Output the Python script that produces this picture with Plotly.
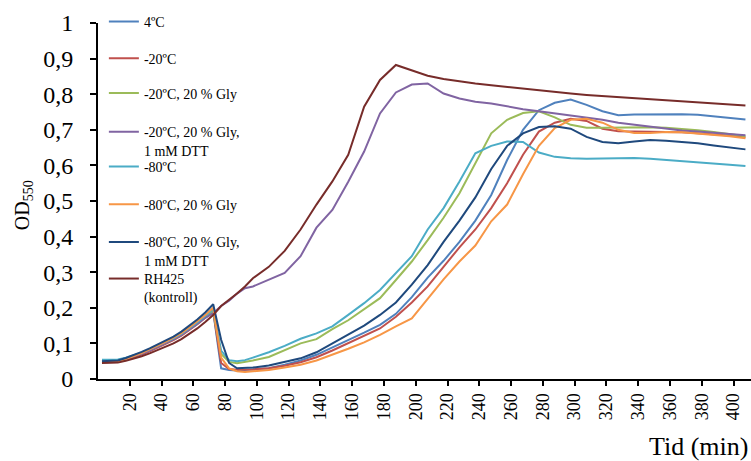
import plotly.graph_objects as go

time_min = [2.5, 7.5, 12.5, 17.5, 22.5, 27.5, 32.5, 37.5, 42.5, 47.5, 52.5, 57.5, 62.5, 67.5, 72.5,
            77.5, 82.5, 87.5, 92.5, 97.5,
            107.5, 117.5, 127.5, 137.5, 147.5, 157.5, 167.5, 177.5, 187.5, 197.5,
            207.5, 217.5, 227.5, 237.5, 247.5, 257.5, 267.5, 277.5, 287.5, 297.5,
            307.5, 317.5, 327.5, 337.5, 347.5, 357.5, 367.5, 377.5, 387.5, 397.5, 407.5]

od_4C = [0.052, 0.052, 0.053, 0.058, 0.065, 0.073, 0.082, 0.092, 0.102, 0.113, 0.126, 0.141, 0.158, 0.176, 0.19,
         0.03, 0.025, 0.024, 0.025, 0.026,
         0.03, 0.04, 0.052, 0.068, 0.088, 0.11, 0.13, 0.152, 0.183, 0.23,
         0.285, 0.332, 0.385, 0.445, 0.517, 0.615, 0.70, 0.755, 0.776, 0.785,
         0.77, 0.752, 0.741, 0.743, 0.744, 0.744, 0.744, 0.742, 0.737, 0.733, 0.729]

od_m20 = [0.047, 0.047, 0.048, 0.054, 0.061, 0.069, 0.078, 0.088, 0.098, 0.109, 0.122, 0.137, 0.154, 0.172, 0.19,
          0.045, 0.028, 0.026, 0.026, 0.027,
          0.03, 0.037, 0.047, 0.061, 0.08, 0.1, 0.12, 0.142, 0.175, 0.215,
          0.26, 0.315, 0.37, 0.42, 0.48, 0.55, 0.63, 0.695, 0.72, 0.731,
          0.725, 0.703, 0.696, 0.695, 0.695, 0.695, 0.693, 0.69, 0.688, 0.684, 0.679]

od_m20_gly = [0.05, 0.05, 0.051, 0.057, 0.064, 0.072, 0.081, 0.091, 0.101, 0.112, 0.125, 0.14, 0.157, 0.175, 0.19,
              0.07, 0.048, 0.044, 0.047, 0.052,
              0.062, 0.08, 0.1, 0.112, 0.14, 0.165, 0.195, 0.227, 0.278, 0.33,
              0.39, 0.453, 0.522, 0.607, 0.69, 0.728, 0.747, 0.752, 0.735, 0.714,
              0.706, 0.706, 0.707, 0.707, 0.707, 0.706, 0.703, 0.699, 0.694, 0.688, 0.682]

od_m20_gly_dtt = [0.05, 0.05, 0.051, 0.056, 0.063, 0.071, 0.08, 0.09, 0.1, 0.111, 0.124, 0.139, 0.155, 0.172, 0.185,
                  0.205, 0.22, 0.24, 0.255, 0.26,
                  0.278, 0.298, 0.345, 0.425, 0.475, 0.554, 0.639, 0.746, 0.805, 0.827,
                  0.83, 0.802, 0.788, 0.779, 0.774, 0.765, 0.758, 0.752, 0.746, 0.74,
                  0.735, 0.728, 0.72, 0.714, 0.708, 0.702, 0.698, 0.695, 0.692, 0.688, 0.685]

od_m80 = [0.054, 0.054, 0.055, 0.06, 0.066, 0.074, 0.083, 0.093, 0.103, 0.114, 0.127, 0.142, 0.159, 0.177, 0.195,
          0.08, 0.053, 0.05, 0.053, 0.06,
          0.075, 0.093, 0.113, 0.128, 0.148, 0.18, 0.213, 0.25, 0.298, 0.345,
          0.42, 0.48, 0.555, 0.634, 0.655, 0.667, 0.666, 0.636, 0.624, 0.62,
          0.619, 0.62, 0.622, 0.621, 0.619, 0.616, 0.613, 0.61, 0.606, 0.602, 0.598]

od_m80_gly = [0.048, 0.048, 0.049, 0.056, 0.064, 0.073, 0.083, 0.093, 0.104, 0.116, 0.129, 0.145, 0.162, 0.18, 0.2,
              0.06, 0.03, 0.022, 0.02, 0.022,
              0.025, 0.032, 0.04, 0.052, 0.068, 0.085, 0.103, 0.124, 0.148, 0.17,
              0.225, 0.28, 0.33, 0.375, 0.443, 0.49, 0.575, 0.655, 0.705, 0.728,
              0.731, 0.72, 0.7, 0.691, 0.691, 0.694, 0.693, 0.69, 0.687, 0.682, 0.676]

od_m80_gly_dtt = [0.05, 0.05, 0.052, 0.059, 0.067, 0.076, 0.086, 0.097, 0.107, 0.119, 0.133, 0.149, 0.167, 0.187, 0.21,
                  0.11, 0.045, 0.03, 0.03, 0.032,
                  0.038, 0.047, 0.058, 0.075, 0.1, 0.125, 0.15, 0.18, 0.215, 0.265,
                  0.32, 0.385, 0.445, 0.51, 0.59, 0.655, 0.69, 0.708, 0.71, 0.703,
                  0.68, 0.666, 0.662, 0.667, 0.671, 0.669, 0.666, 0.662, 0.656, 0.651, 0.645]

od_rh425 = [0.045, 0.045, 0.046, 0.051, 0.057, 0.064, 0.072, 0.081, 0.09, 0.1, 0.112, 0.126, 0.142, 0.16, 0.18,
            0.205, 0.222, 0.24, 0.26, 0.283,
            0.315, 0.36, 0.42, 0.49, 0.555, 0.63, 0.765, 0.84, 0.882, 0.868,
            0.852, 0.843, 0.836, 0.83, 0.825, 0.82, 0.815, 0.81, 0.806, 0.802,
            0.798, 0.795, 0.792, 0.789, 0.786, 0.783, 0.78, 0.777, 0.774, 0.771, 0.768]

series_names = ["4ºC", "-20ºC", "-20ºC, 20 % Gly", "-20ºC, 20 % Gly,<br>1 mM DTT", "-80ºC",
                "-80ºC, 20 % Gly", "-80ºC, 20 % Gly,<br>1 mM DTT", "RH425<br>(kontroll)"]
series_values = [od_4C, od_m20, od_m20_gly, od_m20_gly_dtt, od_m80, od_m80_gly, od_m80_gly_dtt, od_rh425]
series_colors = ["#4F81BD", "#C0504D", "#9BBB59", "#8064A2", "#4BACC6", "#F79646", "#1F497D", "#772C2A"]
# vertical position (paper fraction) of the top of each legend entry
legend_tops = [1.048, 0.945, 0.847, 0.738, 0.641, 0.535, 0.429, 0.326]

x_ticks = [20, 40, 60, 80, 100, 120, 140, 160, 180, 200, 220, 240, 260, 280, 300, 320, 340, 360, 380, 400]
y_ticks = [0, 0.1, 0.2, 0.3, 0.4, 0.5, 0.6, 0.7, 0.8, 0.9, 1]
y_ticktext = ["0", "0,1", "0,2", "0,3", "0,4", "0,5", "0,6", "0,7", "0,8", "0,9", "1"]

serif = "Liberation Serif, Times New Roman, serif"

fig = go.Figure()
legend_layouts = {}
for i, (name, vals, col) in enumerate(zip(series_names, series_values, series_colors)):
    lkey = "legend" if i == 0 else f"legend{i + 1}"
    fig.add_trace(go.Scatter(x=time_min, y=vals, mode="lines", name=name, legend=lkey,
                             line=dict(color=col, width=2)))
    legend_layouts[lkey] = dict(x=0.009, y=legend_tops[i], xanchor="left", yanchor="top",
                                bgcolor="rgba(0,0,0,0)", valign="top",
                                font=dict(family=serif, size=14, color="black"))

fig.update_layout(
    width=751, height=461,
    margin=dict(l=98, r=0, t=23, b=82),
    paper_bgcolor="white", plot_bgcolor="white",
    font=dict(family=serif, color="black"),
    showlegend=True,
    xaxis=dict(range=[0, 411], tickmode="array", tickvals=x_ticks, ticktext=[str(v) for v in x_ticks],
               tickangle=-90, tickfont=dict(size=18, family=serif), ticks="outside", ticklen=5,
               tickwidth=1.5, tickcolor="black", showline=True, linecolor="black", linewidth=2,
               showgrid=False, zeroline=False),
    yaxis=dict(range=[0, 1], tickmode="array", tickvals=y_ticks, ticktext=y_ticktext,
               tickfont=dict(size=24, family=serif), ticks="outside", ticklen=6, tickwidth=1.5,
               tickcolor="black", showline=True, linecolor="black", linewidth=2,
               showgrid=False, zeroline=False, ticklabelstandoff=12),
    annotations=[
        dict(text="OD<sub>550</sub>", xref="paper", yref="paper", x=-0.113, y=0.489,
             xanchor="center", yanchor="middle",
             textangle=-90, showarrow=False, font=dict(size=20, family=serif)),
        dict(text="Tid (min)", xref="paper", yref="paper", x=0.92, y=-0.19,
             xanchor="center", yanchor="middle",
             showarrow=False, font=dict(size=26, family=serif)),
    ],
)
fig.update_layout(**legend_layouts)

fig.write_html("out.html")
